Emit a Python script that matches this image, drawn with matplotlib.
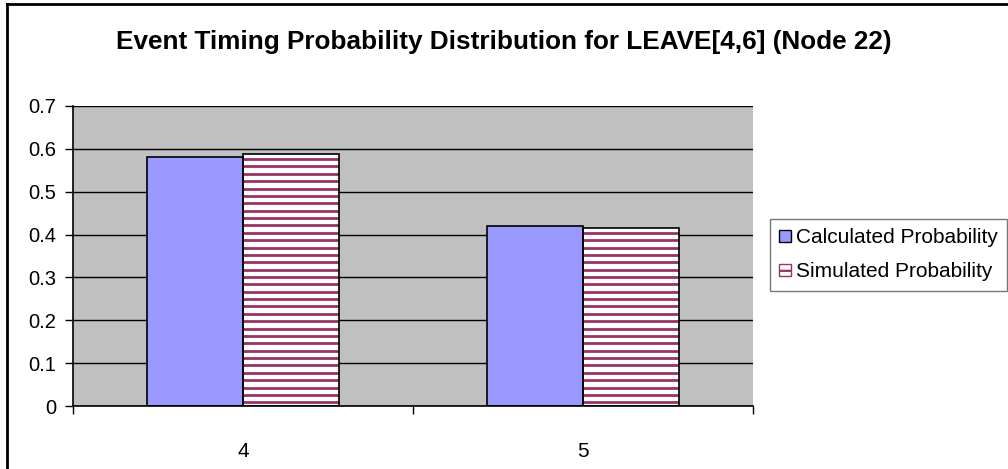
import matplotlib
matplotlib.use("Agg")
import matplotlib.pyplot as plt
from matplotlib.lines import Line2D
from matplotlib.patches import Patch
import numpy as np

plt.rcParams["font.family"] = ["Liberation Sans", "DejaVu Sans"]
plt.rcParams["hatch.linewidth"] = 1.6

# probabilidades por instante de salida
CATEGORIES = ["4", "5"]
CALCULATED = [0.581, 0.420]
SIMULATED = [0.588, 0.415]

SERIES_NAMES = ["Calculated Probability", "Simulated Probability"]
CALC_COLOR = "#9999FF"
SIM_COLOR = "#993366"


def main():
    fig = plt.figure(figsize=(10.08, 4.69), dpi=100)
    ax = fig.add_axes([0.0724, 0.1343, 0.6746, 0.6397])
    ax.set_facecolor("#C0C0C0")
    ax.set_xlim(-0.5, len(CATEGORIES) - 0.5)
    ax.set_ylim(0, 0.7)

    x = np.arange(len(CATEGORIES))
    w = 0.282
    ax.bar(x - w / 2, CALCULATED, w, color=CALC_COLOR, edgecolor="black",
           lw=1.2, zorder=3, label=SERIES_NAMES[0])
    sim = ax.bar(x + w / 2, SIMULATED, w, color="white", edgecolor="black",
                 lw=1.2, zorder=3)
    # rayas horizontales (~7 px de periodo) recortadas a cada barra
    step = 0.0172
    for rect in sim:
        ys = np.arange(step / 2, rect.get_height(), step)
        ln = ax.hlines(ys, rect.get_x(), rect.get_x() + rect.get_width(),
                       color=SIM_COLOR, lw=2.0, zorder=3.5)
        ln.set_clip_path(rect)
        rect.set_zorder(4)
        rect.set_facecolor("none")
    ax.bar(x + w / 2, SIMULATED, w, color="white", lw=0, zorder=2.9)

    ax.set_yticks(np.arange(0, 0.71, 0.1))
    ax.set_yticklabels(["0"] + [f"{v:.1f}" for v in np.arange(0.1, 0.71, 0.1)])
    ax.grid(axis="y", color="black", lw=1.0, zorder=1)
    ax.set_xticks(np.arange(-0.5, len(CATEGORIES), 1.0))
    ax.set_xticklabels([])
    ax.set_xticks(x, CATEGORIES, minor=True)
    ax.tick_params(axis="x", which="minor", length=0, pad=26, labelsize=15)
    ax.tick_params(axis="x", which="major", length=6, width=1, direction="out")
    ax.tick_params(axis="y", length=6, width=1, direction="out", labelsize=14.5,
                   pad=6)
    for s in ["top", "right"]:
        ax.spines[s].set_visible(False)
    for s in ["left", "bottom"]:
        ax.spines[s].set_color("black")
        ax.spines[s].set_linewidth(1.2)
        ax.spines[s].set_zorder(5)

    fig.text(0.5, 0.91, "Event Timing Probability Distribution for LEAVE[4,6] (Node 22)",
             ha="center", va="center", fontsize=18.8, fontweight="bold")

    # leyenda con muestras cuadradas
    handles = [
        Patch(facecolor=CALC_COLOR, edgecolor="black", lw=1),
        Patch(facecolor="white", edgecolor=SIM_COLOR, hatch="--", lw=1),
    ]
    leg = fig.legend(handles, SERIES_NAMES, loc="upper left",
                     bbox_to_anchor=(770 / 1008, 1 - 219 / 469),
                     fontsize=15, frameon=True, fancybox=False,
                     handlelength=0.55, handleheight=0.55, handletextpad=0.25,
                     borderpad=0.45, labelspacing=0.72, borderaxespad=0)
    leg.get_frame().set_edgecolor("#555555")
    leg.get_frame().set_linewidth(1)

    # marco exterior del gráfico
    fig.add_artist(Line2D([6.5 / 1008, 6.5 / 1008], [0, 1 - 4.5 / 469],
                          transform=fig.transFigure, color="black", lw=2))
    fig.add_artist(Line2D([6.5 / 1008, 1], [1 - 4.5 / 469, 1 - 4.5 / 469],
                          transform=fig.transFigure, color="black", lw=2))

    fig.savefig("out.png", dpi=100)


if __name__ == "__main__":
    main()
